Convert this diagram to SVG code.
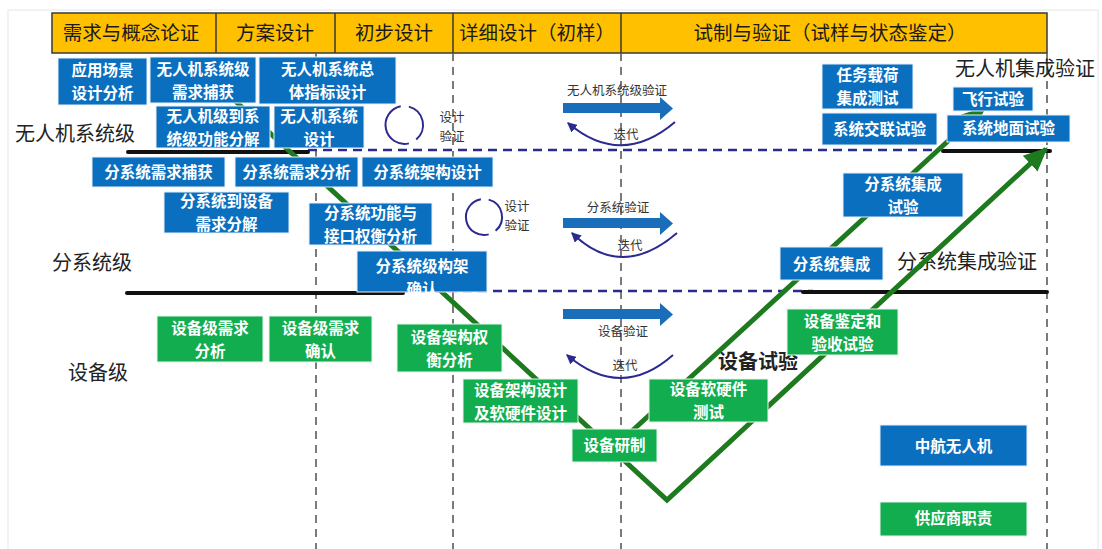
<svg xmlns="http://www.w3.org/2000/svg" width="1102" height="549" viewBox="0 0 1102 549">
<style>
text{font-family:"Noto Sans CJK SC","Liberation Sans",sans-serif;}
.hdr{fill:#FFC000;stroke:#3a3a3a;stroke-width:1.5}
.ht{font-size:19.5px;fill:#1a1a1a;text-anchor:middle}
.bb rect{fill:#0A6FBF;stroke:#e8f0f8;stroke-width:1}
.gb rect{fill:#12AD4F;stroke:#e8f6ec;stroke-width:1}
.bt{font-size:15.5px;font-weight:bold;fill:#fff;text-anchor:middle}
.lvl{font-size:20px;fill:#222}
.sm{font-size:12.5px;fill:#333;text-anchor:middle}
.vd{stroke:#5a5a5a;stroke-width:1.6;stroke-dasharray:8 6;fill:none}
.hd{stroke:#2B2A8F;stroke-width:2.5;stroke-dasharray:9 6;fill:none}
.blk{stroke:#111;stroke-width:4;stroke-linecap:round;fill:none}
.gl{stroke:#1E7A1E;stroke-width:5;fill:none;stroke-linejoin:miter}
.it{stroke:#2B2A8F;stroke-width:2;fill:none}
.ar{fill:#1A6DB8}
</style>
<defs>
<marker id="gah" markerUnits="userSpaceOnUse" markerWidth="24" markerHeight="24" refX="18" refY="9" orient="auto" viewBox="0 0 20 18">
<path d="M0,0 L20,9 L0,18 z" fill="#1E7A1E"/>
</marker>
<marker id="nah" markerUnits="userSpaceOnUse" markerWidth="10" markerHeight="10" refX="7" refY="4" orient="auto" viewBox="0 0 8 8">
<path d="M0,0 L8,4 L0,8 z" fill="#2B2A8F"/>
</marker>
</defs>
<rect x="0" y="0" width="1102" height="549" fill="#fff"/>
<rect x="8" y="10" width="1090" height="545" fill="none" stroke="#e6e6e6" stroke-width="1"/>

<g id="header">
<rect class="hdr" x="52" y="13" width="995" height="40"/>
<line x1="216" y1="13" x2="216" y2="53" stroke="#3a3a3a" stroke-width="1.5"/>
<line x1="335" y1="13" x2="335" y2="53" stroke="#3a3a3a" stroke-width="1.5"/>
<line x1="453" y1="13" x2="453" y2="53" stroke="#3a3a3a" stroke-width="1.5"/>
<line x1="621" y1="13" x2="621" y2="53" stroke="#3a3a3a" stroke-width="1.5"/>
<text class="ht" x="131" y="40">需求与概念论证</text>
<text class="ht" x="275" y="40">方案设计</text>
<text class="ht" x="394" y="40">初步设计</text>
<text class="ht" x="537" y="40">详细设计（初样）</text>
<text class="ht" x="830" y="40">试制与验证（试样与状态鉴定）</text>
</g>

<g id="grid">
<line class="vd" x1="316" y1="53" x2="316" y2="549"/>
<line class="vd" x1="453" y1="53" x2="453" y2="549"/>
<line class="vd" x1="621" y1="53" x2="621" y2="549"/>
<line class="vd" x1="1047" y1="53" x2="1047" y2="549"/>
</g>

<g id="level-labels">
<text class="lvl" x="15" y="141">无人机系统级</text>
<text class="lvl" x="52" y="270">分系统级</text>
<text class="lvl" x="68" y="380">设备级</text>
<text class="lvl" x="718" y="369" font-weight="bold" fill="#333">设备试验</text>
<text class="lvl" x="955" y="76">无人机集成验证</text>
<text class="lvl" x="897" y="269">分系统集成验证</text>
</g>

<g id="connectors">
<line class="hd" x1="308" y1="150" x2="937" y2="150"/>
<line class="hd" x1="403" y1="291" x2="813" y2="291"/>
<line class="blk" x1="128" y1="152" x2="308" y2="152"/>
<line class="blk" x1="943" y1="151" x2="1050" y2="151"/>
<line class="blk" x1="127" y1="293" x2="403" y2="293"/>
<line class="blk" x1="803" y1="292" x2="1047" y2="292"/>
<polyline class="gl" points="232,98 667,500 1046,149" marker-end="url(#gah)"/>
<line class="gl" x1="620" y1="442" x2="984" y2="108" marker-end="url(#gah)"/>
<path class="it" d="M400.7,106.3 A19,19 0 1 0 408.9,143.4"/>
<path class="it" d="M408.9,106.6 A19,19 0 0 1 416.2,139.6"/>
<path class="it" d="M480.9,199.3 A18,18 0 1 0 488.7,234.4"/>
<path class="it" d="M488.7,199.6 A18,18 0 0 1 495.6,230.8"/>
<path class="ar" d="M563,103 H660 V97 L673,108.5 L660,120 V113 H563 Z"/>
<path class="ar" d="M563,218 H660 V212 L673,223.5 L660,235 V228 H563 Z"/>
<path class="ar" d="M563,309 H660 V303 L673,314.5 L660,326 V319 H563 Z"/>
<path class="it" d="M675,122 Q621,168 568,123" marker-end="url(#nah)"/>
<path class="it" d="M677,233 Q621,281 572,233" marker-end="url(#nah)"/>
<path class="it" d="M673,355 Q621,401 567,355" marker-end="url(#nah)"/>
</g>

<g id="small-labels">
<text class="sm" font-size="12"><tspan x="452" y="122">设计</tspan><tspan x="452" y="141">验证</tspan></text>
<text class="sm" font-size="12"><tspan x="517" y="211">设计</tspan><tspan x="517" y="230">验证</tspan></text>
<text class="sm" x="617" y="95">无人机系统级验证</text>
<text class="sm" x="626" y="139">迭代</text>
<text class="sm" x="618" y="212">分系统验证</text>
<text class="sm" x="630" y="250">迭代</text>
<text class="sm" x="623" y="336">设备验证</text>
<text class="sm" x="625" y="370">迭代</text>
</g>

<g id="n1" class="bb"><rect x="58" y="58" width="89" height="47"/><text class="bt"><tspan x="102.5" y="76">应用场景</tspan><tspan x="102.5" y="99">设计分析</tspan></text></g>
<g id="n2" class="bb"><rect x="150" y="57" width="106" height="46"/><text class="bt"><tspan x="203" y="74.5">无人机系统级</tspan><tspan x="203" y="97.5">需求捕获</tspan></text></g>
<g id="n3" class="bb"><rect x="259" y="57" width="137" height="47"/><text class="bt"><tspan x="327.5" y="75">无人机系统总</tspan><tspan x="327.5" y="98">体指标设计</tspan></text></g>
<g id="n4" class="bb"><rect x="156" y="106" width="114" height="42"/><text class="bt"><tspan x="213" y="121.5">无人机级到系</tspan><tspan x="213" y="144.5">统级功能分解</tspan></text></g>
<g id="n5" class="bb"><rect x="274" y="106" width="90" height="42"/><text class="bt"><tspan x="319" y="121.5">无人机系统</tspan><tspan x="319" y="144.5">设计</tspan></text></g>
<g id="n6" class="bb"><rect x="92" y="157" width="133" height="30"/><text class="bt" x="158.5" y="178">分系统需求捕获</text></g>
<g id="n7" class="bb"><rect x="235" y="157" width="123" height="30"/><text class="bt" x="296.5" y="178">分系统需求分析</text></g>
<g id="n8" class="bb"><rect x="362" y="157" width="131" height="30"/><text class="bt" x="427.5" y="178">分系统架构设计</text></g>
<g id="n9" class="bb"><rect x="164" y="192" width="125" height="41"/><text class="bt"><tspan x="226.5" y="207">分系统到设备</tspan><tspan x="226.5" y="230">需求分解</tspan></text></g>
<g id="n10" class="bb"><rect x="309" y="203" width="123" height="42"/><text class="bt"><tspan x="370.5" y="218.5">分系统功能与</tspan><tspan x="370.5" y="241.5">接口权衡分析</tspan></text></g>
<g id="n11" class="bb"><rect x="357" y="251" width="130" height="41"/><text class="bt"><tspan x="422" y="272">分系统级构架</tspan><tspan x="422" y="295">确认</tspan></text></g>
<g id="n12" class="bb"><rect x="822" y="64" width="91" height="45"/><text class="bt"><tspan x="867.5" y="81">任务载荷</tspan><tspan x="867.5" y="104">集成测试</tspan></text></g>
<g id="n13" class="bb"><rect x="822" y="113" width="115" height="32"/><text class="bt" x="879.5" y="135">系统交联试验</text></g>
<g id="n14" class="bb"><rect x="953" y="87" width="80" height="24"/><text class="bt" x="993" y="105">飞行试验</text></g>
<g id="n15" class="bb"><rect x="947" y="115" width="123" height="27"/><text class="bt" x="1008.5" y="134">系统地面试验</text></g>
<g id="n16" class="bb"><rect x="843" y="173" width="120" height="44"/><text class="bt"><tspan x="903" y="189.5">分系统集成</tspan><tspan x="903" y="212.5">试验</tspan></text></g>
<g id="n17" class="bb"><rect x="780" y="247" width="103" height="33"/><text class="bt" x="831.5" y="269.5">分系统集成</text></g>
<g id="n18" class="bb"><rect x="880" y="425" width="147" height="41"/><text class="bt" x="953.5" y="451.5">中航无人机</text></g>

<g id="n19" class="gb"><rect x="157" y="316" width="106" height="46"/><text class="bt"><tspan x="210" y="333.5">设备级需求</tspan><tspan x="210" y="356.5">分析</tspan></text></g>
<g id="n20" class="gb"><rect x="269" y="316" width="103" height="46"/><text class="bt"><tspan x="320.5" y="333.5">设备级需求</tspan><tspan x="320.5" y="356.5">确认</tspan></text></g>
<g id="n21" class="gb"><rect x="397" y="324" width="105" height="48"/><text class="bt"><tspan x="449.5" y="342.5">设备架构权</tspan><tspan x="449.5" y="365.5">衡分析</tspan></text></g>
<g id="n22" class="gb"><rect x="463" y="379" width="115" height="44"/><text class="bt"><tspan x="520.5" y="395.5">设备架构设计</tspan><tspan x="520.5" y="418.5">及软硬件设计</tspan></text></g>
<g id="n23" class="gb"><rect x="572" y="429" width="85" height="33"/><text class="bt" x="614.5" y="451">设备研制</text></g>
<g id="n24" class="gb"><rect x="649" y="379" width="119" height="43"/><text class="bt"><tspan x="708.5" y="395">设备软硬件</tspan><tspan x="708.5" y="418">测试</tspan></text></g>
<g id="n25" class="gb"><rect x="787" y="309" width="111" height="46"/><text class="bt"><tspan x="842.5" y="326.5">设备鉴定和</tspan><tspan x="842.5" y="349.5">验收试验</tspan></text></g>
<g id="n26" class="gb"><rect x="880" y="502" width="147" height="34"/><text class="bt" x="953.5" y="524">供应商职责</text></g>
</svg>
